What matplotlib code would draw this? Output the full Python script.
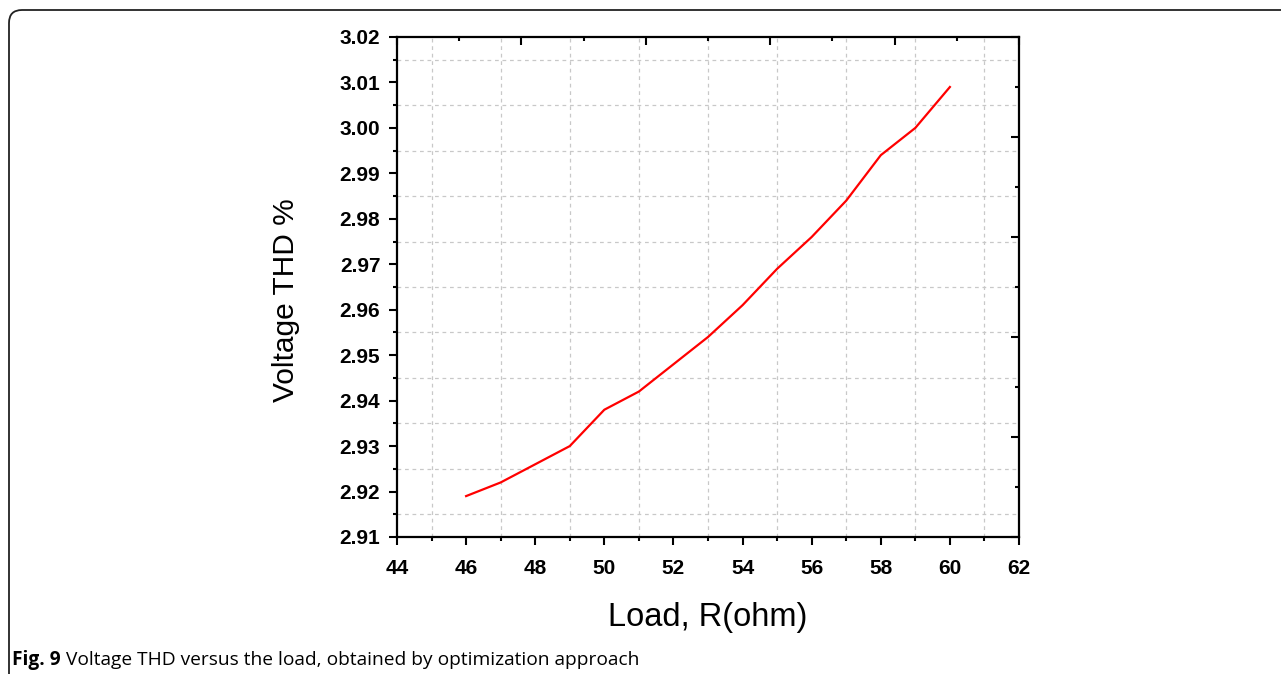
import matplotlib.pyplot as plt
from matplotlib.patches import FancyBboxPatch
from matplotlib.ticker import MultipleLocator
from matplotlib.transforms import IdentityTransform

# data
load_ohm = [46, 47, 48, 49, 50, 51, 52, 53, 54, 55, 56, 57, 58, 59, 60]
thd_pct = [2.919, 2.922, 2.926, 2.930, 2.938, 2.942, 2.948, 2.954,
           2.961, 2.969, 2.976, 2.984, 2.994, 3.000, 3.009]

caption_bold = "Fig. 9"
caption_text = " Voltage THD versus the load, obtained by optimization approach"

plt.rcParams['font.family'] = ['Liberation Sans', 'DejaVu Sans']

fig = plt.figure(figsize=(12.81, 6.74), dpi=100)
ax = fig.add_axes([397 / 1281, 1 - 537 / 674, 622 / 1281, 500 / 674])

ax.plot(load_ohm, thd_pct, color='red', lw=1.6, zorder=3)

ax.set_xlim(44, 62)
ax.set_ylim(2.91, 3.02)
ax.xaxis.set_major_locator(MultipleLocator(2))
ax.xaxis.set_minor_locator(MultipleLocator(1))
ax.yaxis.set_major_locator(MultipleLocator(0.01))
ax.yaxis.set_minor_locator(MultipleLocator(0.005))
ax.yaxis.set_major_formatter(plt.FormatStrFormatter('%.2f'))

# grid only on the minor positions
ax.grid(which='minor', color='#c8c8c8', ls=(0, (3, 3)), lw=0.9)
ax.grid(which='major', visible=False)

ax.tick_params(which='both', direction='out', width=1.5, top=False, right=False)
ax.tick_params(which='major', length=6)
ax.tick_params(which='minor', length=3)
ax.tick_params(axis='x', which='major', pad=10)
ax.tick_params(axis='y', which='major', pad=6)
for lab in ax.get_xticklabels() + ax.get_yticklabels():
    lab.set_fontsize(15)
    lab.set_fontweight('bold')
for sp in ax.spines.values():
    sp.set_linewidth(1.6)

ax.set_xlabel("Load, R(ohm)", fontsize=23.5, labelpad=17)
ax.set_ylabel("Voltage THD %", fontsize=21.5)
ax.yaxis.set_label_coords(-0.156, 0.474)

# the top/right axes carry their own inward ticks
ax2 = fig.add_axes(ax.get_position(), frameon=False)
ax2.set_xlim(0, 10)
ax2.set_ylim(0, 10)
ax2.xaxis.set_major_locator(MultipleLocator(2))
ax2.xaxis.set_minor_locator(MultipleLocator(1))
ax2.yaxis.set_major_locator(MultipleLocator(2))
ax2.yaxis.set_minor_locator(MultipleLocator(1))
ax2.tick_params(which='both', direction='in', width=1.5,
                top=True, right=True, bottom=False, left=False,
                labeltop=False, labelright=False, labelbottom=False, labelleft=False)
ax2.tick_params(which='major', length=6)
ax2.tick_params(which='minor', length=3)

# rounded frame around the figure
frame = FancyBboxPatch((9, -30), 1320, 674 - 10 + 30,
                       boxstyle="round,pad=0,rounding_size=13",
                       transform=IdentityTransform(), fill=False,
                       edgecolor='#222222', lw=1.3)
fig.patches.append(frame)

t = fig.text(12 / 1281, 1 - 660 / 674, caption_bold, fontsize=13.8, fontweight='bold',
             family=['Open Sans', 'DejaVu Sans'], va='center', ha='left')
fig.canvas.draw()
bb = t.get_window_extent()
fig.text(bb.x1 / 1281, 1 - 660 / 674, caption_text, fontsize=13.8,
         family=['Open Sans', 'DejaVu Sans'], va='center', ha='left')

fig.savefig("out.png", dpi=100)
